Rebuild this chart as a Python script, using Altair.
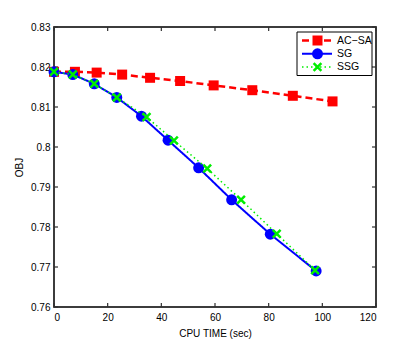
import altair as alt
import pandas as pd

# ---- data ----
acsa_x = [0, 7.8, 15.9, 25.4, 35.8, 47.0, 59.5, 73.9, 89.0, 103.8]
acsa_y = [0.8188, 0.8188, 0.8186, 0.8181, 0.8173, 0.8165, 0.8154, 0.8142, 0.8128, 0.8114]

sg_x = [0, 7.0, 15.0, 23.4, 32.6, 42.5, 53.9, 66.2, 80.6, 97.7]
sg_y = [0.8188, 0.8181, 0.8158, 0.8124, 0.8077, 0.8017, 0.7948, 0.7868, 0.7782, 0.7690]

ssg_x = [0, 7.0, 15.0, 23.4, 34.5, 44.7, 57.1, 69.7, 83.0, 97.3]
ssg_y = [0.8188, 0.8181, 0.8158, 0.8124, 0.8075, 0.8016, 0.7946, 0.7868, 0.7783, 0.7692]

series_names = ["AC\u2212SA", "SG", "SSG"]
x_ticks = [0, 20, 40, 60, 80, 100, 120]
y_ticks = [0.76, 0.77, 0.78, 0.79, 0.80, 0.81, 0.82, 0.83]

W, H = 322, 280
FONT = "Liberation Sans"
FRAME = "#303030"

xs = alt.Scale(domain=[0, 120], nice=False, zero=False)
ys = alt.Scale(domain=[0.76, 0.83], nice=False, zero=False)

X_PATH = "M-1,-1L1,1M-1,1L1,-1"
styles = [
    dict(color="#ff0000", dash=[7, 4], width=2.5, shape="square", size=100, filled=True, sw=1),
    dict(color="#0000ff", dash=[1, 0], width=2, shape="circle", size=120, filled=True, sw=1),
    dict(color="#00ee00", dash=[1.5, 3], width=1.5, shape=X_PATH, size=60, filled=False, sw=2.5),
]

XAX = alt.Axis(values=x_ticks, title="CPU TIME (sec)", tickSize=0, labelPadding=5, titlePadding=6,
               domain=False, grid=False, labelOverlap=False, labelFont=FONT, titleFont=FONT,
               labelFontSize=10, titleFontSize=10, labelColor="black", titleColor="black",
               titleFontWeight="normal")
YAX = alt.Axis(values=y_ticks, title="OBJ", tickSize=0, format=".2~f", labelPadding=4, titlePadding=6,
               domain=False, grid=False, labelOverlap=False, labelFont=FONT, titleFont=FONT,
               labelFontSize=10, titleFontSize=10, labelColor="black", titleColor="black",
               titleFontWeight="normal")

one = pd.DataFrame({"a": [0]})

# plot frame (drawn first, like a box around the axes)
frame_rect = alt.Chart(one).mark_rect(fill="white", fillOpacity=0, stroke=FRAME, strokeWidth=1.5).encode(
    x=alt.value(0), x2=alt.value(W), y=alt.value(0), y2=alt.value(H))

xt = pd.DataFrame({"x": x_ticks})
yt = pd.DataFrame({"y": y_ticks})
TL = 4
tick_layers = [
    alt.Chart(xt).mark_rule(color=FRAME, strokeWidth=1.2).encode(
        x=alt.X("x:Q", scale=xs, axis=XAX), y=alt.value(H), y2=alt.value(H - TL)),
    alt.Chart(xt).mark_rule(color=FRAME, strokeWidth=1.2).encode(
        x=alt.X("x:Q", scale=xs, axis=XAX), y=alt.value(0), y2=alt.value(TL)),
    alt.Chart(yt).mark_rule(color=FRAME, strokeWidth=1.2).encode(
        y=alt.Y("y:Q", scale=ys, axis=YAX), x=alt.value(0), x2=alt.value(TL)),
    alt.Chart(yt).mark_rule(color=FRAME, strokeWidth=1.2).encode(
        y=alt.Y("y:Q", scale=ys, axis=YAX), x=alt.value(W), x2=alt.value(W - TL)),
]

layers = []
for i, (name, xv, yv) in enumerate(zip(series_names, [acsa_x, sg_x, ssg_x], [acsa_y, sg_y, ssg_y])):
    s = styles[i]
    base = alt.Chart(pd.DataFrame({"series": name, "x": xv, "y": yv}))
    layers.append(base.mark_line(color=s["color"], strokeDash=s["dash"], strokeWidth=s["width"]).encode(
        x=alt.X("x:Q", scale=xs, axis=XAX), y=alt.Y("y:Q", scale=ys, axis=YAX)))
    layers.append(base.mark_point(shape=s["shape"], size=s["size"], filled=s["filled"], color=s["color"],
                                  strokeWidth=s["sw"], opacity=1).encode(
        x=alt.X("x:Q", scale=xs, axis=XAX), y=alt.Y("y:Q", scale=ys, axis=YAX)))

# custom legend
LX0, LX1, LY0, LY1 = 243, 318, 5, 48.5
leg = [alt.Chart(one).mark_rect(fill="white", stroke="black", strokeWidth=1).encode(
    x=alt.value(LX0), x2=alt.value(LX1), y=alt.value(LY0), y2=alt.value(LY1))]
for i, name in enumerate(series_names):
    s = styles[i]
    yy = 13.5 + i * 13.3
    leg.append(alt.Chart(one).mark_rule(color=s["color"], strokeDash=s["dash"], strokeWidth=s["width"]).encode(
        x=alt.value(248), x2=alt.value(278), y=alt.value(yy)))
    leg.append(alt.Chart(one).mark_point(shape=s["shape"], size=s["size"], filled=s["filled"], color=s["color"],
                                         strokeWidth=s["sw"], opacity=1).encode(
        x=alt.value(263.5), y=alt.value(yy)))
    leg.append(alt.Chart(pd.DataFrame({"t": [name]})).mark_text(
        align="left", baseline="middle", font=FONT, fontSize=10.5, color="black").encode(
        x=alt.value(283), y=alt.value(yy), text="t:N"))

chart = alt.layer(frame_rect, *tick_layers, *layers, *leg).properties(
    width=W, height=H,
    autosize=alt.AutoSizeParams(type="none"),
    padding={"left": 46, "top": 19, "right": 25, "bottom": 40},
).configure_view(stroke=FRAME, strokeWidth=1.5)

chart.save("out.html", embed_options={"renderer": "svg", "actions": False})
